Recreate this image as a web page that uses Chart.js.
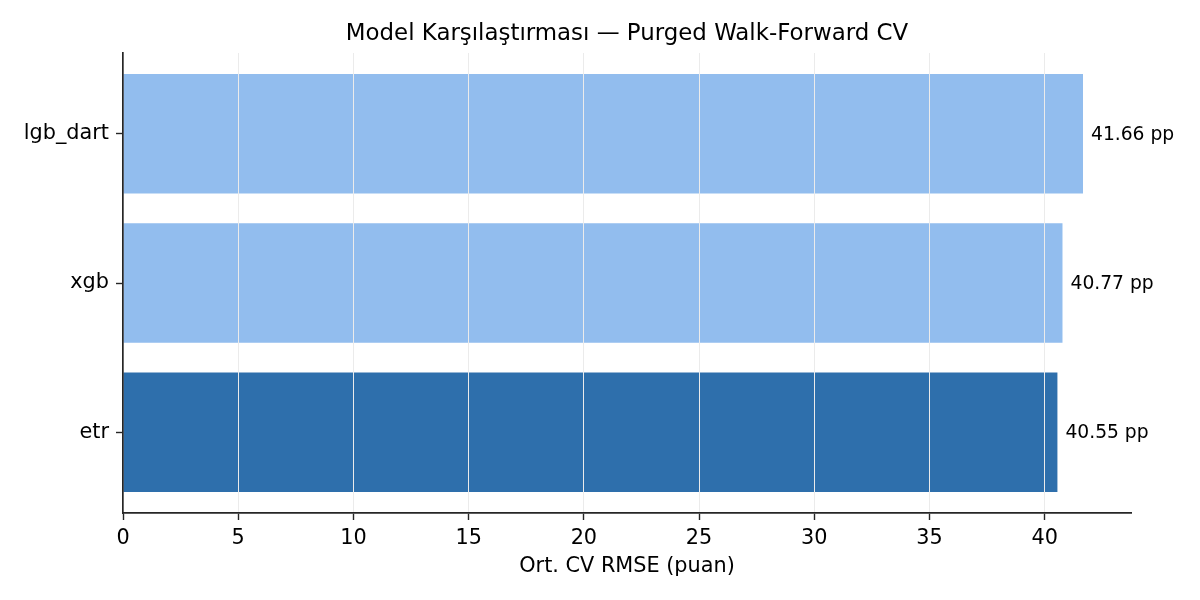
<!DOCTYPE html>
<html>
<head>
<meta charset="utf-8">
<script src="https://cdn.jsdelivr.net/npm/chart.js@4/dist/chart.umd.min.js"></script>
<style>
    html, body { margin: 0; padding: 0; background: #fff; }
    #wrap { width: 1200px; height: 600px; }
</style>
</head>
<body>
<div id="wrap"><canvas id="cv" width="1200" height="600"></canvas></div>
<script>
// bottom-to-top order, like barh
var models = ['etr', 'xgb', 'lgb_dart'];
var rmse = [40.55, 40.77, 41.66];
var barColors = ['#2e6fac', '#92bdee', '#92bdee'];
var xTickStep = 5;

var FONT = "'DejaVu Sans', sans-serif";
var TITLE = 'Model Karşılaştırması — Purged Walk-Forward CV';
var INK = '#262626';

var points = models.map(function(m, i) {
    return { x: rmse[i], y: i };
});

// value labels at the end of each bar + title centred over the plot area
var extras = {
    id: 'extras',
    afterDatasetsDraw: function(chart) {
        var ctx = chart.ctx;
        var meta = chart.getDatasetMeta(0);
        ctx.save();
        ctx.font = '18.7px ' + FONT;
        ctx.fillStyle = '#000';
        ctx.textAlign = 'left';
        ctx.textBaseline = 'middle';
        meta.data.forEach(function(bar, i) {
            ctx.fillText(rmse[i].toFixed(2) + ' pp', bar.x + 8, bar.y + 1);
        });
        var area = chart.chartArea;
        ctx.font = '22.9px ' + FONT;
        ctx.textAlign = 'center';
        ctx.fillText(TITLE, (area.left + area.right) / 2, 34);
        ctx.restore();
    }
};

new Chart(document.getElementById('cv'), {
    type: 'bar',
    data: {
        datasets: [{
            data: points,
            backgroundColor: barColors,
            borderWidth: 0,
            barPercentage: 0.8,
            categoryPercentage: 1
        }]
    },
    options: {
        indexAxis: 'y',
        responsive: false,
        animation: false,
        layout: { padding: { left: 0, right: 69, top: 53, bottom: 0 } },
        plugins: {
            legend: { display: false },
            tooltip: { enabled: false }
        },
        scales: {
            x: {
                type: 'linear',
                min: 0,
                max: 41.66 * 1.05,
                afterFit: function(scale) { scale.height = 87; },
                ticks: {
                    stepSize: xTickStep,
                    includeBounds: false,
                    color: '#000',
                    padding: 6,
                    font: { family: FONT, size: 20.8 }
                },
                grid: {
                    z: 1,
                    color: function(c) { return c.tick && c.tick.value === 0 ? 'rgba(0,0,0,0)' : '#ebebeb'; },
                    lineWidth: 1,
                    tickColor: INK,
                    tickLength: 7,
                    tickWidth: 1.4
                },
                border: { z: 2, color: INK, width: 1.7 },
                title: {
                    display: true,
                    text: 'Ort. CV RMSE (puan)',
                    color: '#000',
                    font: { family: FONT, size: 20.8 },
                    padding: { top: 4, bottom: 21 }
                }
            },
            y: {
                type: 'linear',
                min: -0.54,
                max: 2.54,
                offset: false,
                afterFit: function(scale) { scale.width = 123; },
                afterBuildTicks: function(scale) {
                    scale.ticks = models.map(function(m, i) { return { value: i }; });
                },
                ticks: {
                    color: '#000',
                    padding: 7,
                    font: { family: FONT, size: 20.8 },
                    callback: function(v) { return models[v]; }
                },
                grid: {
                    offset: false,
                    drawOnChartArea: false,
                    tickColor: INK,
                    tickLength: 7,
                    tickWidth: 1.4
                },
                border: { z: 2, color: INK, width: 1.7 }
            }
        }
    },
    plugins: [extras]
});
</script>
</body>
</html>
